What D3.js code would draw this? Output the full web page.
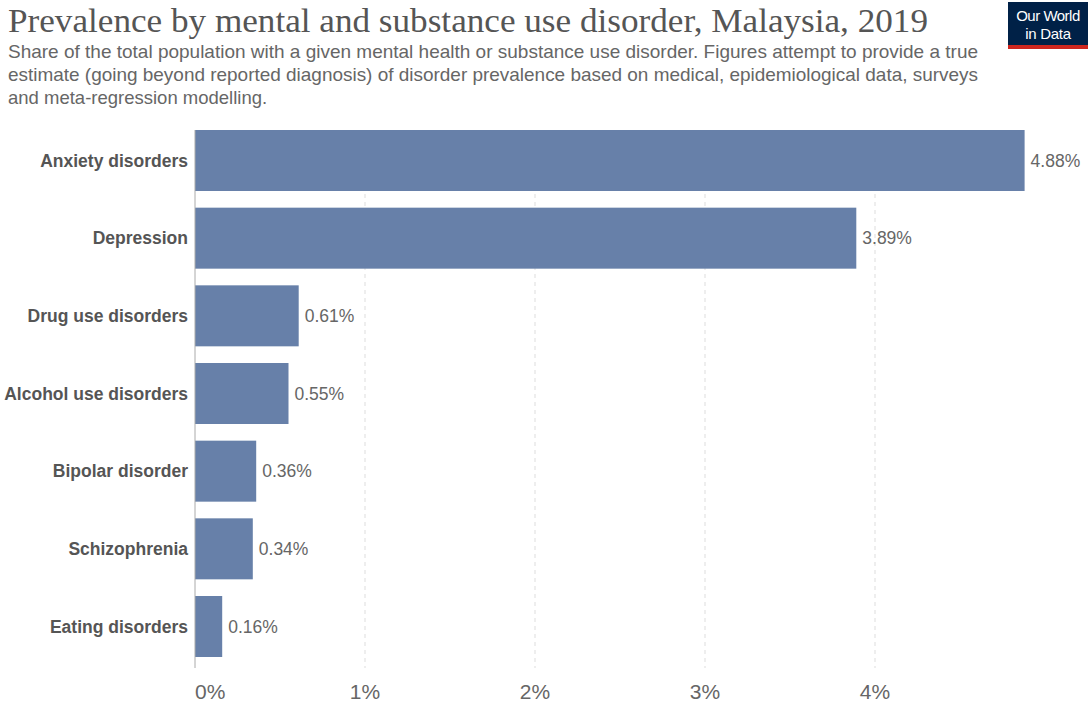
<!DOCTYPE html>
<html><head><meta charset="utf-8">
<script src="https://cdn.jsdelivr.net/npm/d3@7"></script>
<style>body{margin:0;background:#fff}svg{display:block}</style>
</head><body>
<svg id="c" width="1091" height="704"></svg>
<script>
const categories = ["Anxiety disorders","Depression","Drug use disorders","Alcohol use disorders","Bipolar disorder","Schizophrenia","Eating disorders"];
const values = [4.88, 3.89, 0.61, 0.55, 0.36, 0.34, 0.16];
const tickValues = [0, 1, 2, 3, 4];
const tickLabels = ["0%","1%","2%","3%","4%"];
const title = "Prevalence by mental and substance use disorder, Malaysia, 2019";
const subtitle = ["Share of the total population with a given mental health or substance use disorder. Figures attempt to provide a true",
  "estimate (going beyond reported diagnosis) of disorder prevalence based on medical, epidemiological data, surveys",
  "and meta-regression modelling."];

const svg = d3.select("#c");
const x = d3.scaleLinear().domain([0, 4]).range([195, 875]);
const y = d3.scaleBand().domain(categories).range([130, 657]).paddingInner(0.2146).paddingOuter(0);
const sans = "Liberation Sans, Arial, sans-serif";

svg.append("text").attr("x", 8).attr("y", 32).attr("font-family", "Liberation Serif, serif")
  .attr("font-size", 33).attr("fill", "#555").attr("textLength", 920).attr("lengthAdjust", "spacingAndGlyphs").text(title);
const subLens = [970, 970, null];
subtitle.forEach((s, i) => {
  const t = svg.append("text").attr("x", 8).attr("y", 58 + i * 23)
    .attr("font-family", sans).attr("font-size", 18.5).attr("fill", "#666").text(s);
  if (subLens[i]) t.attr("textLength", subLens[i]).attr("lengthAdjust", "spacingAndGlyphs");
});

// logo
const logo = svg.append("g");
logo.append("rect").attr("x", 1008).attr("y", 2).attr("width", 80).attr("height", 43).attr("fill", "#002147");
logo.append("rect").attr("x", 1008).attr("y", 45).attr("width", 80).attr("height", 4).attr("fill", "#ce261e");
logo.append("text").attr("x", 1048).attr("y", 21).attr("text-anchor", "middle").attr("fill", "#fff")
  .attr("font-family", sans).attr("font-size", 15).attr("letter-spacing", -0.5).text("Our World");
logo.append("text").attr("x", 1048).attr("y", 39).attr("text-anchor", "middle").attr("fill", "#fff")
  .attr("font-family", sans).attr("font-size", 15).attr("letter-spacing", -0.3).text("in Data");

// gridlines
svg.append("g").selectAll("line").data(tickValues.slice(1)).join("line")
  .attr("x1", d => x(d)).attr("x2", d => x(d)).attr("y1", 130).attr("y2", 668)
  .attr("stroke", "#ddd").attr("stroke-dasharray", "4,4");

// bars
svg.append("g").selectAll("rect").data(categories).join("rect")
  .attr("x", x(0)).attr("y", d => y(d)).attr("width", (d, i) => x(values[i]) - x(0))
  .attr("height", y.bandwidth()).attr("fill", "#6780a9");

// axis line
svg.append("line").attr("x1", x(0)).attr("x2", x(0)).attr("y1", 130).attr("y2", 668).attr("stroke", "#aaa");

// category labels
svg.append("g").selectAll("text").data(categories).join("text")
  .attr("x", 188).attr("y", d => y(d) + y.bandwidth() / 2).attr("dy", "0.35em")
  .attr("text-anchor", "end").attr("font-family", sans)
  .attr("font-weight", "bold").attr("font-size", 17.5).attr("fill", "#555").text(d => d);

// value labels
svg.append("g").selectAll("text").data(categories).join("text")
  .attr("x", (d, i) => x(values[i]) + 6).attr("y", d => y(d) + y.bandwidth() / 2).attr("dy", "0.35em")
  .attr("font-family", sans).attr("font-size", 17.5).attr("fill", "#666")
  .text((d, i) => values[i].toFixed(2) + "%");

// tick labels
svg.append("g").selectAll("text").data(tickValues).join("text")
  .attr("x", d => x(d)).attr("y", 699).attr("text-anchor", (d, i) => i === 0 ? "start" : "middle")
  .attr("font-family", sans).attr("font-size", 21).attr("fill", "#666")
  .text((d, i) => tickLabels[i]);
</script>
</body></html>
